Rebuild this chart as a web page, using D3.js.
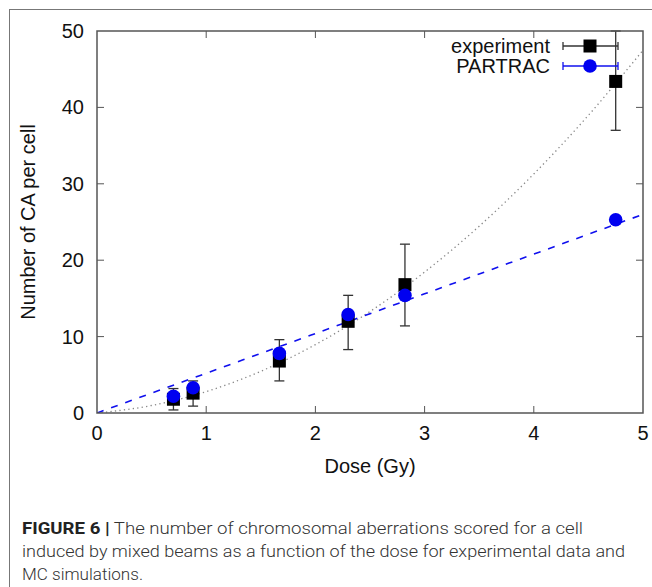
<!DOCTYPE html>
<html>
<head>
<meta charset="utf-8">
<script src="https://cdn.jsdelivr.net/npm/d3@7"></script>
<style>
  body { margin: 0; background: #fff; }
  svg { display: block; }
  text { font-family: "Liberation Sans", Helvetica, Arial, sans-serif; }
</style>
</head>
<body>
<svg width="652" height="587"></svg>
<script>
// doses (Gy)
var doses = [0.7, 0.88, 1.67, 2.3, 2.82, 4.75];
// experiment: mean, low, high
var expMean = [1.8, 2.6, 6.8, 12.0, 16.8, 43.4];
var expLow  = [0.4, 0.9, 4.2, 8.3, 11.4, 37.0];
var expHigh = [3.2, 4.2, 9.6, 15.4, 22.1, 50.0];
// PARTRAC simulation
var simMean = [2.2, 3.3, 7.8, 12.9, 15.4, 25.3];
// fitted curves
var fitDose = [0, 0.5, 1, 1.5, 2, 2.5, 3, 3.5, 4, 4.5, 5];
var fitExp  = [0, 0.98, 2.8, 5.46, 8.95, 13.28, 18.45, 24.45, 31.29, 38.97, 47.48];
var fitSim  = [0, 2.6, 5.2, 7.8, 10.4, 13.0, 15.6, 18.2, 20.8, 23.4, 26.0];

var xTicks = [0, 1, 2, 3, 4, 5];
var yTicks = [0, 10, 20, 30, 40, 50];

var svg = d3.select("svg");

// figure frame
svg.append("rect")
  .attr("x", 9.5).attr("y", 9.5)
  .attr("width", 700).attr("height", 700)
  .attr("fill", "none").attr("stroke", "#777").attr("stroke-width", 1);

var pL = 97, pR = 643, pT = 31, pB = 413;

var x = d3.scaleLinear().domain([0, 5]).range([pL, pR]);
var y = d3.scaleLinear().domain([0, 50]).range([pB, pT]);

var axisColor = "#555";

// ticks (inward, mirrored on all sides)
var tk = svg.append("g").attr("stroke", axisColor).attr("stroke-width", 1);
xTicks.forEach(function(d) {
  if (d === 0 || d === 5) return;
  tk.append("line").attr("x1", x(d)).attr("x2", x(d)).attr("y1", pB).attr("y2", pB - 7);
  tk.append("line").attr("x1", x(d)).attr("x2", x(d)).attr("y1", pT).attr("y2", pT + 7);
});
yTicks.forEach(function(d) {
  if (d === 0 || d === 50) return;
  tk.append("line").attr("x1", pL).attr("x2", pL + 7).attr("y1", y(d)).attr("y2", y(d));
  tk.append("line").attr("x1", pR).attr("x2", pR - 7).attr("y1", y(d)).attr("y2", y(d));
});

// tick labels
svg.append("g").selectAll("text").data(xTicks).enter().append("text")
  .attr("x", function(d) { return x(d); })
  .attr("y", pB + 27)
  .attr("text-anchor", "middle")
  .attr("font-size", 20)
  .attr("fill", "#111")
  .text(function(d) { return d; });

svg.append("g").selectAll("text").data(yTicks).enter().append("text")
  .attr("x", pL - 13)
  .attr("y", function(d) { return y(d) + 7; })
  .attr("text-anchor", "end")
  .attr("font-size", 20)
  .attr("fill", "#111")
  .text(function(d) { return d; });

// axis titles
svg.append("text")
  .attr("x", (pL + pR) / 2).attr("y", 473)
  .attr("text-anchor", "middle").attr("font-size", 20).attr("fill", "#111")
  .text("Dose (Gy)");

svg.append("text")
  .attr("transform", "translate(35," + ((pT + pB) / 2) + ") rotate(-90)")
  .attr("text-anchor", "middle").attr("font-size", 20).attr("fill", "#111")
  .text("Number of CA per cell");

// clip for curves
svg.append("clipPath").attr("id", "plotclip")
  .append("rect").attr("x", pL).attr("y", pT).attr("width", pR - pL).attr("height", pB - pT);

var line = d3.line().curve(d3.curveMonotoneX)
  .x(function(d) { return x(d[0]); })
  .y(function(d) { return y(d[1]); });

svg.append("path")
  .datum(d3.zip(fitDose, fitExp))
  .attr("clip-path", "url(#plotclip)")
  .attr("d", line)
  .attr("fill", "none").attr("stroke", "#888").attr("stroke-width", 1.3)
  .attr("stroke-dasharray", "1.3,3.2");

svg.append("path")
  .datum(d3.zip(fitDose, fitSim))
  .attr("clip-path", "url(#plotclip)")
  .attr("d", line)
  .attr("fill", "none").attr("stroke", "#1010ee").attr("stroke-width", 1.6)
  .attr("stroke-dasharray", "7,8");

// error bars (experiment)
var eb = svg.append("g").attr("stroke", "#333").attr("stroke-width", 1.3);
doses.forEach(function(d, i) {
  var cx = x(d);
  eb.append("line").attr("x1", cx).attr("x2", cx).attr("y1", y(expLow[i])).attr("y2", y(expHigh[i]));
  eb.append("line").attr("x1", cx - 5).attr("x2", cx + 5).attr("y1", y(expLow[i])).attr("y2", y(expLow[i]));
  eb.append("line").attr("x1", cx - 5).attr("x2", cx + 5).attr("y1", y(expHigh[i])).attr("y2", y(expHigh[i]));
});

// experiment squares
var sq = 13;
svg.append("g").selectAll("rect").data(doses).enter().append("rect")
  .attr("x", function(d) { return x(d) - sq / 2; })
  .attr("y", function(d, i) { return y(expMean[i]) - sq / 2; })
  .attr("width", sq).attr("height", sq)
  .attr("fill", "#000");

// PARTRAC circles
svg.append("g").selectAll("circle").data(doses).enter().append("circle")
  .attr("cx", function(d) { return x(d); })
  .attr("cy", function(d, i) { return y(simMean[i]); })
  .attr("r", 6.8)
  .attr("fill", "#0000f0");

// plot border (drawn last so it sits on top)
svg.append("rect")
  .attr("x", pL).attr("y", pT)
  .attr("width", pR - pL).attr("height", pB - pT)
  .attr("fill", "none").attr("stroke", axisColor).attr("stroke-width", 1.5);

// legend
var lg = svg.append("g");
var lx1 = 563, lx2 = 618, lmid = 590;
lg.append("text").attr("x", 550).attr("y", 53).attr("text-anchor", "end")
  .attr("font-size", 20).attr("fill", "#111").text("experiment");
lg.append("text").attr("x", 550).attr("y", 73).attr("text-anchor", "end")
  .attr("font-size", 20).attr("fill", "#111").text("PARTRAC");

[[46, "#333"], [66, "#1010ee"]].forEach(function(r) {
  lg.append("line").attr("x1", lx1).attr("x2", lx2).attr("y1", r[0]).attr("y2", r[0])
    .attr("stroke", r[1]).attr("stroke-width", 1.3);
  lg.append("line").attr("x1", lx1).attr("x2", lx1).attr("y1", r[0] - 4).attr("y2", r[0] + 4)
    .attr("stroke", r[1]).attr("stroke-width", 1.3);
  lg.append("line").attr("x1", lx2).attr("x2", lx2).attr("y1", r[0] - 4).attr("y2", r[0] + 4)
    .attr("stroke", r[1]).attr("stroke-width", 1.3);
});
lg.append("rect").attr("x", lmid - sq / 2).attr("y", 46 - sq / 2).attr("width", sq).attr("height", sq).attr("fill", "#000");
lg.append("circle").attr("cx", lmid).attr("cy", 66).attr("r", 6.8).attr("fill", "#0000f0");

// caption
var capFont = 'Roboto, "Liberation Sans", sans-serif';
var cap = svg.append("g").attr("font-size", 17).attr("fill", "#333").attr("font-weight", 300);
var c1 = cap.append("text").attr("x", 22).attr("y", 534).style("font-family", capFont);
c1.append("tspan").attr("font-weight", "bold").attr("fill", "#222").text("FIGURE 6 |");
c1.append("tspan").text(" The number of chromosomal aberrations scored for a cell");
c1.attr("textLength", 561).attr("lengthAdjust", "spacingAndGlyphs");
cap.append("text").attr("x", 22).attr("y", 557).style("font-family", capFont)
  .attr("textLength", 603).attr("lengthAdjust", "spacingAndGlyphs")
  .text("induced by mixed beams as a function of the dose for experimental data and");
cap.append("text").attr("x", 22).attr("y", 580).style("font-family", capFont)
  .attr("textLength", 121).attr("lengthAdjust", "spacingAndGlyphs")
  .text("MC simulations.");
</script>
</body>
</html>
